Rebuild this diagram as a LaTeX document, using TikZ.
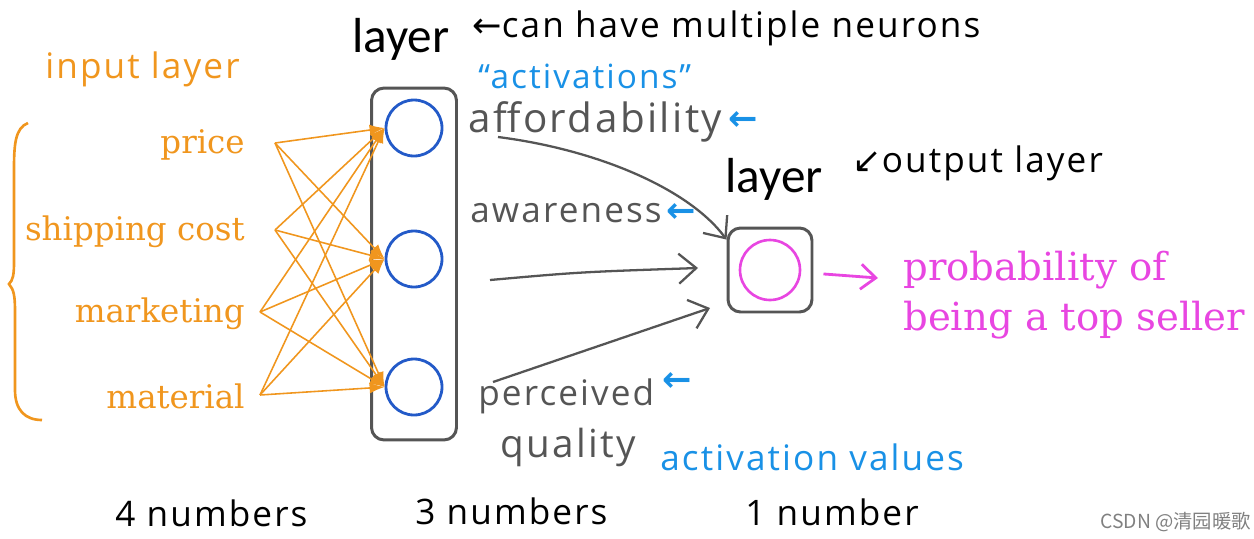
\documentclass[tikz,border=0pt]{standalone}
\usepackage{fontspec}
\newfontfamily\handfont[LetterSpace=6]{Open Sans}
\newfontfamily\symfont{DejaVu Sans}
\newfontfamily\seriffont{DejaVu Serif}
\newfontfamily\labelfont{Carlito}
\newfontfamily\cjkfont{Noto Sans CJK SC}
\usetikzlibrary{arrows.meta, positioning, calc}

\definecolor{inorange}{RGB}{240,150,30}
\definecolor{nblue}{RGB}{35,90,200}
\definecolor{annblue}{RGB}{25,145,230}
\definecolor{outpink}{RGB}{232,70,225}
\definecolor{pengrey}{RGB}{85,85,85}

\begin{document}
\begin{tikzpicture}[
		x=0.02cm, y=-0.02cm,
		neuron/.style={draw, circle, line width=1.6pt, minimum size=1.12cm, inner sep=0pt},
		layerbox/.style={draw=pengrey, line width=1.7pt, rounded corners=0.25cm, inner sep=0pt},
		inlabel/.style={anchor=base east, text=inorange, font=\seriffont\fontsize{18.5}{22}\selectfont, inner sep=0pt},
		outlabel/.style={anchor=base west, text=outpink, font=\seriffont\fontsize{22}{26}\selectfont, inner sep=0pt},
		hand/.style={anchor=base west, font=\handfont\fontsize{20}{24}\selectfont, inner sep=0pt},
		bigword/.style={anchor=base west, font=\labelfont\fontsize{28}{32}\selectfont, inner sep=0pt},
		tick/.style={text=annblue, font=\symfont\bfseries\fontsize{20}{22}\selectfont, inner sep=0pt},
		inarrow/.style={-{Latex[length=0.3cm,width=0.22cm]}, draw=inorange, line width=0.9pt},
		penarrow/.style={-{Straight Barb[length=0.35cm,width=0.6cm]}, draw=pengrey, line width=1.3pt},
		outarrow/.style={-{Straight Barb[length=0.3cm,width=0.5cm]}, draw=outpink, line width=1.6pt}
		]
		\useasboundingbox (0,0) rectangle (1254,538);
		
		% Input layer
		\node[hand, text=inorange] (inputname) at (45,78) {input layer};
		\node[inlabel] (price) at (245,153) {price};
		\node[inlabel] (ship) at (245,240) {shipping cost};
		\node[inlabel] (market) at (245,322) {marketing};
		\node[inlabel] (mat) at (245,408) {material};
		\coordinate (price-o) at (275,143);
		\coordinate (ship-o) at (275,230);
		\coordinate (market-o) at (260,312);
		\coordinate (mat-o) at (260,395);
		\draw[inorange, line width=1.5pt] (28,123) .. controls (15,128) and (14,145) .. (14,170)
			-- (14,262) .. controls (14,275) and (13,280) .. (9,284)
			.. controls (14,290) and (15,296) .. (15,312) -- (15,390)
			.. controls (15,410) and (25,420) .. (42,420);
		
		% Hidden layer
		\node[layerbox, minimum width=1.7cm, minimum height=7.04cm] (hidden) at (414,264) {};
		\node[neuron, draw=nblue] (h1) at (414,128) {};
		\node[neuron, draw=nblue] (h2) at (414,259) {};
		\node[neuron, draw=nblue] (h3) at (414,387) {};
		\node[bigword] (hidname) at (352,52) {layer};
		\node[hand] (neurons) at (472,37) {{\symfont←}can have multiple neurons};
		
		% Activations
		\node[hand, text=annblue, font=\handfont\fontsize{19}{24}\selectfont] (acts) at (478,88) {“activations”};
		\node[hand, text=pengrey, font=\handfont\fontsize{23}{28}\selectfont] (afford) at (468,132) {affordability};
		\node[tick, right=3pt of afford.east] (afftick) {←};
		\node[hand, text=pengrey] (aware) at (470,222) {awareness};
		\node[tick, right=2pt of aware.east] (awatick) {←};
		\node[hand, text=pengrey] (perceived) at (478,405) {perceived};
		\node[tick, right=4pt of perceived.east, yshift=8pt] (pertick) {←};
		\node[hand, text=pengrey, font=\handfont\fontsize{22}{26}\selectfont] (quality) at (500,457) {quality};
		\node[hand, text=annblue] (actvals) at (660,470) {activation values};
		
		% Output layer
		\node[layerbox, minimum size=1.68cm] (outbox) at (770,270) {};
		\node[neuron, draw=outpink, line width=1.5pt, minimum size=1.2cm] (out) at (outbox) {};
		\node[bigword] (outname) at (725,192) {layer};
		\node[hand] (outnote) at (852,172) {{\symfont↙}output layer};
		\coordinate (prob-in) at (878,278);
		\node[outlabel] (prob) at (903,280) {probability of};
		\node[outlabel] (seller) at (903,330) {being a top seller};
		
		% Counts
		\node[hand] (count4) at (115,526) {4 numbers};
		\node[hand] (count3) at (415,524) {3 numbers};
		\node[hand] (count1) at (745,525) {1 number};
		\node[anchor=base west, text=gray, font=\cjkfont\fontsize{11}{13}\selectfont, inner sep=0pt] (mark) at (1100,528) {CSDN @清园暖歌};
		
		% Arrows
		\foreach \s in {price,ship,market,mat}
			\foreach \t in {h1,h2,h3}
				\draw[inarrow] (\s-o) -- (\t.west);
		\coordinate (afford-o) at (498,137);
		\coordinate (aware-o) at (490,280);
		\coordinate (aware-i) at (698,268);
		\coordinate (perc-o) at (493,382);
		\coordinate (perc-i) at (710,308);
		\draw[penarrow] (afford-o) .. controls (600,150) and (690,190) .. (outbox.145);
		\draw[penarrow] (aware-o) .. controls (580,272) .. (aware-i);
		\draw[penarrow] (perc-o) .. controls (600,345) .. (perc-i);
		\draw[outarrow, shorten <=0.2cm] (outbox) -- (prob-in);
		
	\end{tikzpicture}
\end{document}
